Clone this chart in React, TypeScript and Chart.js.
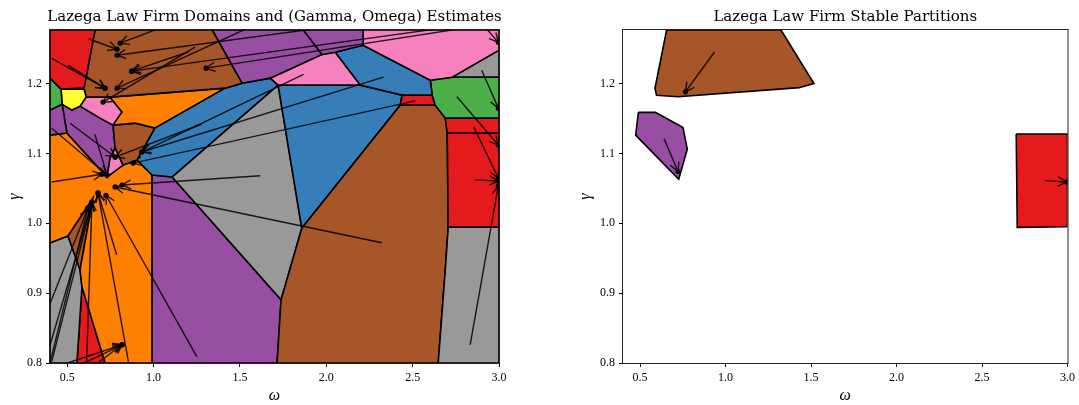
import { useEffect, useRef } from 'react';
import { Chart, registerables } from 'chart.js';

Chart.register(...registerables);

type Pt = [number, number];
// [tailOmega, tailGamma, headOmega, headGamma]
type Arrow = [number, number, number, number];

const X_MIN = 0.4;
const X_MAX = 3.0;
const Y_MIN = 0.8;
const Y_MAX = 1.2765;
const xTicks = [0.5, 1.0, 1.5, 2.0, 2.5, 3.0];
const yTicks = [0.8, 0.9, 1.0, 1.1, 1.2];

// matplotlib Set1 palette
const RED = '#e41a1c';
const BLUE = '#377eb8';
const GREEN = '#4daf4a';
const PURPLE = '#984ea3';
const ORANGE = '#ff7f00';
const YELLOW = '#ffff33';
const BROWN = '#a65628';
const PINK = '#f781bf';
const GRAY = '#999999';

// ---- Domains in the (omega, gamma) plane ----
const domRedTop: Pt[] = [[0.4, 1.2765], [0.661, 1.2765], [0.597, 1.1933], [0.464, 1.1919], [0.4, 1.2076]];
const domGreenLeft: Pt[] = [[0.4, 1.2076], [0.464, 1.1919], [0.47, 1.1704], [0.4, 1.1619]];
const domYellow: Pt[] = [[0.464, 1.1919], [0.597, 1.1919], [0.609, 1.1804], [0.574, 1.1676], [0.527, 1.1619], [0.47, 1.1704]];
const domBrownTop: Pt[] = [[0.661, 1.2765], [1.339, 1.2765], [1.512, 1.2004], [1.414, 1.1933], [0.748, 1.1804], [0.609, 1.1804], [0.597, 1.1933]];
const domPurpleTop: Pt[] = [[1.339, 1.2765], [1.866, 1.2765], [1.974, 1.2414], [1.675, 1.2076], [1.512, 1.2004]];
const domPurpleTop2: Pt[] = [[1.866, 1.2765], [2.213, 1.2765], [2.213, 1.2547], [2.051, 1.2447], [1.974, 1.2414]];
const domPinkTopRight: Pt[] = [[2.213, 1.2765], [3.0, 1.2765], [3.0, 1.2476], [2.729, 1.209], [2.602, 1.2047], [2.213, 1.2547]];
const domPinkMid: Pt[] = [[1.675, 1.2076], [1.974, 1.2414], [2.051, 1.2447], [2.196, 1.1976], [1.721, 1.1976]];
const domBlueTopRight: Pt[] = [[2.051, 1.2447], [2.213, 1.2547], [2.602, 1.2047], [2.613, 1.1833], [2.439, 1.1833], [2.196, 1.1976]];
const domGrayTopRight: Pt[] = [[2.729, 1.209], [3.0, 1.2476], [3.0, 1.209]];
const domGreenRight: Pt[] = [[2.602, 1.2047], [2.729, 1.209], [3.0, 1.209], [3.0, 1.1504], [2.689, 1.1504], [2.631, 1.169], [2.613, 1.1833]];
const domRedSmall: Pt[] = [[2.439, 1.1833], [2.613, 1.1833], [2.631, 1.169], [2.428, 1.169]];
const domRedRight1: Pt[] = [[2.689, 1.1504], [3.0, 1.1504], [3.0, 1.129], [2.7, 1.129]];
const domRedRight2: Pt[] = [[2.7, 1.129], [3.0, 1.129], [3.0, 0.9947], [2.706, 0.9947]];
const domGrayBottomRight: Pt[] = [[2.706, 0.9947], [3.0, 0.9947], [3.0, 0.8], [2.648, 0.8], [2.689, 0.9333]];
const domBrownBig: Pt[] = [[1.858, 0.9929], [2.428, 1.169], [2.631, 1.169], [2.689, 1.1504], [2.7, 1.129], [2.706, 0.9947], [2.689, 0.9333], [2.648, 0.8], [1.715, 0.8], [1.738, 0.8904]];
const domBlueRight: Pt[] = [[1.721, 1.1976], [2.196, 1.1976], [2.439, 1.1833], [2.428, 1.169], [1.858, 0.9929]];
const domGrayCenter: Pt[] = [[1.107, 1.0661], [1.721, 1.1976], [1.858, 0.9929], [1.738, 0.8904]];
const domBlueLeft: Pt[] = [[0.904, 1.0904], [1.008, 1.1361], [1.414, 1.1933], [1.512, 1.2004], [1.675, 1.2076], [1.721, 1.1976], [1.107, 1.0661], [0.991, 1.069]];
const domPurpleBottom: Pt[] = [[0.991, 1.069], [1.107, 1.0661], [1.738, 0.8904], [1.715, 0.8], [0.994, 0.8]];
const domOrangeUpper: Pt[] = [[0.748, 1.1804], [1.414, 1.1933], [1.008, 1.1361], [0.892, 1.1433], [0.765, 1.1404], [0.817, 1.159]];
const domPinkLeft: Pt[] = [[0.609, 1.1804], [0.748, 1.1804], [0.817, 1.159], [0.765, 1.1404], [0.69, 1.1504], [0.574, 1.1676]];
const domBrownSmall: Pt[] = [[0.765, 1.1404], [0.892, 1.1433], [1.008, 1.1361], [0.904, 1.0904], [0.823, 1.0833], [0.777, 1.1076]];
const domPinkSmall: Pt[] = [[0.748, 1.0933], [0.777, 1.1076], [0.823, 1.0833], [0.73, 1.0661]];
const domPurpleLeft: Pt[] = [[0.4, 1.1619], [0.47, 1.1704], [0.498, 1.129], [0.4, 1.1261]];
const domPurpleMid: Pt[] = [[0.47, 1.1704], [0.527, 1.1619], [0.574, 1.1676], [0.69, 1.1504], [0.765, 1.1404], [0.777, 1.1076], [0.748, 1.0933], [0.73, 1.0661], [0.498, 1.129]];
const domOrangeBig: Pt[] = [[0.4, 1.1261], [0.498, 1.129], [0.73, 1.0661], [0.823, 1.0833], [0.904, 1.0904], [0.991, 1.069], [0.994, 0.8], [0.719, 0.8], [0.585, 0.909], [0.574, 0.9333], [0.649, 1.0361], [0.504, 0.9819], [0.4, 0.9719]];
const domBrownLow: Pt[] = [[0.504, 0.9819], [0.649, 1.0361], [0.574, 0.9333]];
const domGrayLeft: Pt[] = [[0.4, 0.9719], [0.504, 0.9819], [0.574, 0.9333], [0.585, 0.909], [0.556, 0.8], [0.4, 0.8]];
const domRedLow: Pt[] = [[0.585, 0.909], [0.556, 0.8], [0.719, 0.8]];

// ---- Estimate trajectories (start -> final estimate) ----
const domainArrows: Arrow[] = [
  [0.41, 1.236, 0.719, 1.1933],
  [0.506, 1.226, 0.719, 1.1933],
  [0.622, 1.264, 0.788, 1.249],
  [1.773, 1.305, 0.788, 1.1933],
  [2.532, 1.298, 0.788, 1.2404],
  [2.95, 1.285, 1.304, 1.2219],
  [1.24, 1.252, 0.707, 1.1733],
  [1.153, 1.29, 0.806, 1.2576],
  [1.2, 1.245, 0.873, 1.2176],
  [2.9, 1.287, 0.873, 1.2176],
  [0.41, 1.136, 0.73, 1.069],
  [0.516, 1.143, 0.777, 1.0947],
  [0.41, 1.059, 0.7, 1.07],
  [0.66, 1.127, 0.73, 1.069],
  [1.617, 1.068, 0.817, 1.0547],
  [2.322, 0.972, 0.777, 1.0519],
  [2.331, 1.209, 0.931, 1.1019],
  [2.515, 1.175, 0.881, 1.0861],
  [1.279, 1.142, 0.777, 1.0947],
  [1.868, 1.213, 0.931, 1.1019],
  [0.376, 0.776, 0.62, 1.0219],
  [0.41, 0.802, 0.643, 1.0304],
  [0.612, 0.802, 0.643, 1.0304],
  [0.854, 0.802, 0.678, 1.0433],
  [0.786, 0.955, 0.678, 1.0433],
  [1.25, 0.809, 0.724, 1.04],
  [0.38, 0.79, 0.817, 0.8261],
  [0.574, 0.797, 0.817, 0.8261],
  [0.66, 0.797, 0.817, 0.8261],
  [0.37, 0.8, 0.643, 1.0304],
  [0.36, 0.86, 0.62, 1.0219],
  [2.85, 1.3, 2.996, 1.259],
  [2.9, 1.219, 2.996, 1.1647],
  [2.756, 1.181, 2.996, 1.1119],
  [2.853, 1.138, 2.996, 1.0647],
  [2.862, 1.062, 2.996, 1.0605],
  [2.833, 0.826, 2.996, 1.0533],
];

// ---- Stable partitions ----
const partBrown: Pt[] = [[0.655, 1.2765], [1.324, 1.2765], [1.517, 1.2], [1.43, 1.194], [0.722, 1.181], [0.596, 1.183], [0.587, 1.193]];
const partPurple: Pt[] = [[0.49, 1.1586], [0.59, 1.1586], [0.751, 1.137], [0.776, 1.106], [0.726, 1.063], [0.474, 1.126]];
const partRed: Pt[] = [[2.7, 1.1276], [3.0, 1.1276], [3.0, 0.995], [2.706, 0.994]];
const partitionArrows: Arrow[] = [
  [0.935, 1.245, 0.765, 1.188],
  [0.64, 1.121, 0.722, 1.074],
  [2.868, 1.061, 2.996, 1.059],
];

const domainPolygons: [Pt[], string][] = [
  [domRedTop, RED], [domGreenLeft, GREEN], [domYellow, YELLOW], [domBrownTop, BROWN],
  [domPurpleTop, PURPLE], [domPurpleTop2, PURPLE], [domPinkTopRight, PINK], [domPinkMid, PINK],
  [domBlueTopRight, BLUE], [domGrayTopRight, GRAY], [domGreenRight, GREEN], [domRedSmall, RED],
  [domRedRight1, RED], [domRedRight2, RED], [domGrayBottomRight, GRAY], [domBrownBig, BROWN],
  [domBlueRight, BLUE], [domGrayCenter, GRAY], [domBlueLeft, BLUE], [domPurpleBottom, PURPLE],
  [domOrangeUpper, ORANGE], [domPinkLeft, PINK], [domBrownSmall, BROWN], [domPinkSmall, PINK],
  [domPurpleLeft, PURPLE], [domPurpleMid, PURPLE], [domOrangeBig, ORANGE], [domBrownLow, BROWN],
  [domGrayLeft, GRAY], [domRedLow, RED],
];

const partitionPolygons: [Pt[], string][] = [
  [partBrown, BROWN], [partPurple, PURPLE], [partRed, RED],
];

const TICK_FONT = { family: '"Liberation Serif", serif', size: 12 };
const LABEL_FONT = { family: '"Liberation Serif", serif', size: 16, style: 'italic' as const };

function arrowLayer(arrows: Arrow[]) {
  return {
    id: 'arrowLayer',
    beforeDatasetDraw(chart: any, args: any) {
      if (chart.data.datasets[args.index].label !== 'estimates') return;
      const { ctx, chartArea: a, scales } = chart;
      ctx.save();
      ctx.beginPath();
      ctx.rect(a.left, a.top, a.right - a.left, a.bottom - a.top);
      ctx.clip();
      ctx.strokeStyle = 'rgba(0,0,0,0.85)';
      ctx.lineWidth = 1.4;
      for (const [x0, y0, x1, y1] of arrows) {
        const px0 = scales.x.getPixelForValue(x0);
        const py0 = scales.y.getPixelForValue(y0);
        const px1 = scales.x.getPixelForValue(x1);
        const py1 = scales.y.getPixelForValue(y1);
        ctx.beginPath();
        ctx.moveTo(px0, py0);
        ctx.lineTo(px1, py1);
        ctx.stroke();
        const ang = Math.atan2(py1 - py0, px1 - px0);
        const len = 10;
        const spread = 0.48;
        ctx.beginPath();
        ctx.moveTo(px1 - len * Math.cos(ang - spread), py1 - len * Math.sin(ang - spread));
        ctx.lineTo(px1, py1);
        ctx.lineTo(px1 - len * Math.cos(ang + spread), py1 - len * Math.sin(ang + spread));
        ctx.stroke();
      }
      ctx.restore();
    },
  };
}

function frameAndTitle(title: string) {
  return {
    id: 'frameAndTitle',
    afterDraw(chart: any) {
      const { ctx, chartArea: a } = chart;
      ctx.save();
      ctx.strokeStyle = '#222';
      ctx.lineWidth = 1;
      ctx.strokeRect(a.left - 0.5, a.top - 0.5, a.right - a.left + 1, a.bottom - a.top + 1);
      ctx.fillStyle = '#000';
      ctx.font = '15px "DejaVu Serif", serif';
      ctx.textAlign = 'center';
      ctx.textBaseline = 'alphabetic';
      ctx.fillText(title, (a.left + a.right) / 2, 21);
      ctx.restore();
    },
  };
}

function makeConfig(
  title: string,
  polygons: [Pt[], string][],
  arrows: Arrow[],
  yAxisWidth: number,
  padRight: number,
  yTitlePad: number,
): any {
  const polygonSets = polygons.map(([pts, color]) => ({
    label: 'domain',
    data: [...pts, pts[0]].map(([x, y]) => ({ x, y })),
    showLine: true,
    fill: 'shape',
    backgroundColor: color,
    borderColor: '#000',
    borderWidth: 1.6,
    pointRadius: 0,
    pointHoverRadius: 0,
    order: 1,
    clip: 0,
  }));
  const headSet = {
    label: 'estimates',
    data: arrows.map(([, , x, y]) => ({ x, y })),
    pointRadius: 2.6,
    pointHoverRadius: 2.6,
    backgroundColor: '#000',
    borderWidth: 0,
    order: 0,
    clip: 0,
  };
  return {
    type: 'scatter',
    data: { datasets: [...polygonSets, headSet] },
    options: {
      responsive: false,
      animation: false,
      devicePixelRatio: 1,
      events: [],
      layout: { padding: { top: 30, right: padRight, left: 0, bottom: 0 } },
      plugins: { legend: { display: false }, tooltip: { enabled: false }, title: { display: false } },
      scales: {
        x: {
          type: 'linear',
          min: X_MIN,
          max: X_MAX,
          afterBuildTicks: (s: any) => { s.ticks = xTicks.map((v) => ({ value: v })); },
          afterFit: (s: any) => { s.height = 42; },
          ticks: { font: TICK_FONT, color: '#000', padding: 4, maxRotation: 0, callback: (v: any) => Number(v).toFixed(1) },
          grid: { display: true, drawOnChartArea: false, drawTicks: true, tickLength: 4, color: '#000' },
          border: { display: false },
          title: { display: true, text: 'ω', font: LABEL_FONT, color: '#000', padding: { top: 0, bottom: 0 } },
        },
        y: {
          type: 'linear',
          min: Y_MIN,
          max: Y_MAX,
          afterBuildTicks: (s: any) => { s.ticks = yTicks.map((v) => ({ value: v })); },
          afterFit: (s: any) => { s.width = yAxisWidth; },
          ticks: { font: TICK_FONT, color: '#000', padding: 4, callback: (v: any) => Number(v).toFixed(1) },
          grid: { display: true, drawOnChartArea: false, drawTicks: true, tickLength: 4, color: '#000' },
          border: { display: false },
          title: { display: true, text: 'γ', font: LABEL_FONT, color: '#000', padding: { top: yTitlePad, bottom: 0 } },
        },
      },
    },
    plugins: [arrowLayer(arrows), frameAndTitle(title)],
  };
}

export default function App() {
  const leftRef = useRef<HTMLCanvasElement>(null);
  const rightRef = useRef<HTMLCanvasElement>(null);

  useEffect(() => {
    const domains = new Chart(
      leftRef.current!,
      makeConfig('Lazega Law Firm Domains and (Gamma, Omega) Estimates', domainPolygons, domainArrows, 50, 41, 5),
    );
    const partitions = new Chart(
      rightRef.current!,
      makeConfig('Lazega Law Firm Stable Partitions', partitionPolygons, partitionArrows, 83, 9, 36),
    );
    return () => {
      domains.destroy();
      partitions.destroy();
    };
  }, []);

  return (
    <div style={{ position: 'absolute', left: 0, top: 0, width: 1079, height: 405, background: '#fff' }}>
      <canvas ref={leftRef} width={540} height={405} style={{ position: 'absolute', left: 0, top: 0, width: 540, height: 405 }} />
      <canvas ref={rightRef} width={539} height={405} style={{ position: 'absolute', left: 540, top: 0, width: 539, height: 405 }} />
    </div>
  );
}
